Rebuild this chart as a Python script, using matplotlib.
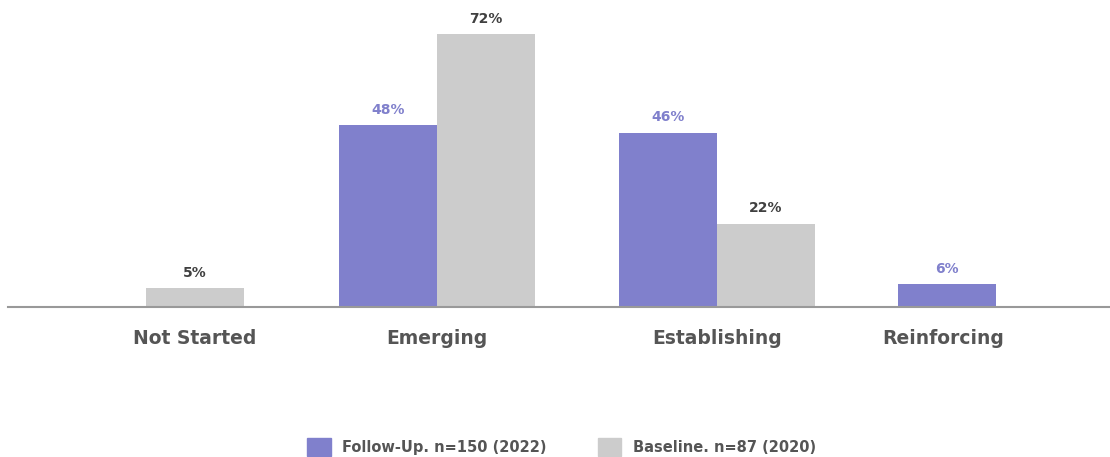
import matplotlib.pyplot as plt
import numpy as np

categories = ["Not Started", "Emerging", "Establishing", "Reinforcing"]
follow_up = [0, 48, 46, 6]
baseline = [5, 72, 22, 0]
series_names = ["Follow-Up. n=150 (2022)", "Baseline. n=87 (2020)"]

# layout (pixel-like data units on x)
group_x = np.array([146, 437, 717, 996])
label_x = np.array([195, 437, 717, 943])
bar_w = 98

purple = "#8080cc"
grey = "#cccccc"

fig = plt.figure(figsize=(11.1, 4.57), dpi=100)
ax = fig.add_axes([8 / 1110, 150 / 457, 1 - 8 / 1110, 307 / 457])

for i in range(len(categories)):
    if follow_up[i] > 0:
        ax.bar(group_x[i] - bar_w / 2, follow_up[i], width=bar_w, color=purple)
        ax.text(group_x[i] - bar_w / 2, follow_up[i] + 2.2, f"{follow_up[i]}%",
                ha="center", va="bottom", color=purple, fontsize=10, fontweight="bold")
    if baseline[i] > 0:
        ax.bar(group_x[i] + bar_w / 2, baseline[i], width=bar_w, color=grey)
        ax.text(group_x[i] + bar_w / 2, baseline[i] + 2.2, f"{baseline[i]}%",
                ha="center", va="bottom", color="#404040", fontsize=10, fontweight="bold")

ax.set_xlim(8, 1110)
ax.set_ylim(0, 81)
ax.set_xticks(label_x)
ax.set_xticklabels(categories, fontsize=13.5, fontweight="bold", color="#555555")
ax.tick_params(axis="x", length=0, pad=16)
ax.set_yticks([])
for s in ["top", "right", "left"]:
    ax.spines[s].set_visible(False)
ax.spines["bottom"].set_color("#999999")
ax.spines["bottom"].set_linewidth(1.5)

handles = [plt.Rectangle((0, 0), 1, 1, color=purple), plt.Rectangle((0, 0), 1, 1, color=grey)]
fig.legend(handles, series_names, loc="center", bbox_to_anchor=(0.506, 0.022), ncol=2,
           frameon=False, handlelength=1.6, handleheight=1.6, columnspacing=3.5,
           prop={"size": 10.5, "weight": "bold"}, labelcolor="#555555")

fig.savefig("out.png", dpi=100)
